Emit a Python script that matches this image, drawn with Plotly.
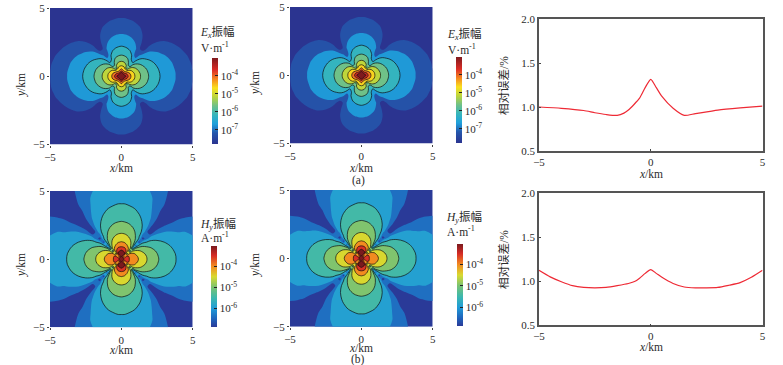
import numpy as np
import plotly.graph_objects as go

W, H = 783, 365
FONT = "Liberation Serif, Noto Sans CJK SC, serif"
TXT = "#2b2b2b"

# Quadrant node positions (km) for the amplitude maps
grid_km = [0, .2, .4, .6, .8, 1, 1.25, 1.5, 2, 2.5, 3, 3.5, 4, 4.5, 5]

# log10 |Ex| at the quadrant nodes: one row per y in grid_km, one column per x in grid_km
ex_log = [
 [-3.30,-3.00,-3.69,-4.27,-4.68,-5.00,-5.32,-5.58,-5.99,-6.31,-6.57,-6.80,-7.00,-7.23,-7.43],
 [-3.00,-3.79,-4.00,-4.41,-4.76,-5.05,-5.35,-5.61,-6.01,-6.32,-6.58,-6.80,-7.00,-7.23,-7.43],
 [-3.99,-4.55,-4.79,-4.80,-5.00,-5.21,-5.46,-5.68,-6.05,-6.35,-6.60,-6.81,-7.02,-7.24,-7.43],
 [-4.57,-4.80,-5.95,-5.37,-5.34,-5.44,-5.61,-5.79,-6.11,-6.39,-6.63,-6.84,-7.04,-7.25,-7.44],
 [-4.98,-5.11,-5.54,-6.40,-5.78,-5.74,-5.81,-5.94,-6.20,-6.45,-6.67,-6.87,-7.06,-7.26,-7.45],
 [-5.30,-5.38,-5.64,-6.21,-6.42,-6.10,-6.06,-6.11,-6.31,-6.52,-6.72,-6.90,-7.09,-7.29,-7.47],
 [-5.62,-5.67,-5.83,-6.13,-6.76,-6.74,-6.42,-6.37,-6.47,-6.63,-6.80,-6.96,-7.15,-7.33,-7.51],
 [-5.88,-5.92,-6.03,-6.22,-6.54,-7.26,-6.90,-6.68,-6.65,-6.75,-6.89,-7.03,-7.21,-7.37,-7.56],
 [-6.29,-6.32,-6.38,-6.48,-6.63,-6.85,-7.33,-7.71,-7.09,-7.05,-7.11,-7.22,-7.36,-7.52,-7.68],
 [-6.61,-6.63,-6.67,-6.73,-6.83,-6.95,-7.17,-7.52,-7.74,-7.41,-7.37,-7.44,-7.55,-7.66,-7.80],
 [-6.88,-6.89,-6.91,-6.96,-7.02,-7.11,-7.25,-7.43,-7.80,-7.80,-7.67,-7.70,-7.76,-7.80,-7.80],
 [-7.10,-7.10,-7.12,-7.16,-7.20,-7.26,-7.36,-7.49,-7.80,-7.80,-7.80,-7.80,-7.80,-7.80,-7.80],
 [-7.30,-7.30,-7.33,-7.35,-7.39,-7.45,-7.53,-7.60,-7.80,-7.80,-7.80,-7.80,-7.80,-7.80,-7.80],
 [-7.53,-7.53,-7.55,-7.60,-7.65,-7.70,-7.75,-7.80,-7.80,-7.80,-7.80,-7.80,-7.80,-7.80,-7.80],
 [-7.80,-7.80,-7.80,-7.80,-7.80,-7.80,-7.80,-7.80,-7.80,-7.80,-7.80,-7.80,-7.80,-7.80,-7.80],
]

# log10 |Hy| at the same nodes
hy_log = [
 [-3.00,-3.30,-3.55,-3.80,-3.95,-4.10,-4.29,-4.53,-4.90,-5.19,-5.43,-5.63,-5.81,-5.89,-6.03],
 [-3.00,-4.30,-3.60,-3.85,-4.00,-4.15,-4.34,-4.56,-4.92,-5.21,-5.44,-5.64,-5.81,-5.89,-6.03],
 [-3.00,-3.06,-4.90,-4.16,-4.17,-4.29,-4.48,-4.66,-4.98,-5.24,-5.47,-5.66,-5.82,-5.90,-6.04],
 [-3.13,-3.34,-3.96,-5.40,-4.77,-4.66,-4.71,-4.82,-5.07,-5.30,-5.50,-5.69,-5.85,-5.92,-6.05],
 [-3.51,-3.63,-3.97,-4.57,-6.00,-5.24,-5.04,-5.05,-5.20,-5.38,-5.56,-5.73,-5.88,-5.95,-6.07],
 [-3.93,-4.00,-4.22,-4.59,-5.17,-6.60,-5.54,-5.35,-5.36,-5.49,-5.64,-5.78,-5.92,-5.98,-6.10],
 [-4.22,-4.27,-4.41,-4.64,-4.97,-5.47,-7.00,-5.91,-5.62,-5.65,-5.75,-5.87,-5.99,-6.03,-6.14],
 [-4.46,-4.49,-4.59,-4.75,-4.98,-5.28,-5.84,-7.00,-5.97,-5.85,-5.89,-5.97,-6.06,-6.09,-6.19],
 [-4.83,-4.85,-4.91,-5.00,-5.13,-5.29,-5.55,-5.90,-7.20,-6.44,-6.25,-6.23,-6.26,-6.25,-6.32],
 [-5.12,-5.14,-5.17,-5.23,-5.31,-5.42,-5.58,-5.78,-6.37,-7.40,-6.82,-6.59,-6.52,-6.45,-6.48],
 [-5.36,-5.37,-5.40,-5.43,-5.49,-5.57,-5.68,-5.82,-6.18,-6.75,-7.60,-7.13,-6.80,-6.71,-6.69],
 [-5.56,-5.57,-5.59,-5.62,-5.66,-5.71,-5.80,-5.90,-6.16,-6.52,-7.06,-7.70,-7.33,-7.05,-6.93],
 [-5.74,-5.74,-5.75,-5.78,-5.81,-5.85,-5.92,-5.99,-6.19,-6.38,-6.73,-7.26,-7.80,-7.57,-7.27],
 [-5.82,-5.82,-5.83,-5.85,-5.88,-5.91,-5.96,-6.02,-6.18,-6.38,-6.64,-6.98,-7.50,-7.80,-7.70],
 [-5.96,-5.96,-5.97,-5.98,-6.00,-6.03,-6.07,-6.12,-6.25,-6.41,-6.62,-6.86,-7.20,-7.70,-7.80],
]

# Relative error profiles (%)
err_a_x = [-5,-4,-3,-2.5,-2,-1.5,-1.2,-1,-.5,-.25,0,.25,.5,1,1.5,2,3,4,5]
err_a_y = [1.0,.985,.96,.935,.915,.905,.93,.965,1.10,1.22,1.315,1.22,1.12,.985,.905,.925,.965,.99,1.01]
err_b_x = [-5,-4.5,-4,-3.5,-3,-2.5,-2,-1.5,-1,-.7,-.5,-.25,0,.25,.5,1,1.5,2,2.5,3,3.5,4,4.5,5]
err_b_y = [1.125,1.05,.995,.95,.93,.925,.93,.95,.975,1.0,1.035,1.09,1.133,1.09,1.045,.975,.935,.925,.925,.93,.955,.985,1.045,1.125]

# Colour bar stops (log10 amplitude, colour)
e_stops = [(-7.78,"#2b3490"),(-7.17,"#2456ac"),(-6.67,"#1fa0dc"),(-6.17,"#35b5bd"),(-5.67,"#6dc08a"),
           (-5.17,"#b9d43e"),(-4.67,"#fae11e"),(-4.17,"#f5861f"),(-3.67,"#dc2c26"),(-3.0,"#7e1a1e")]
h_stops = [(-6.87,"#2a3a98"),(-6.5,"#1f63bb"),(-6.0,"#1f9bd8"),(-5.5,"#3cb8ae"),(-5.0,"#78c273"),
           (-4.5,"#d8da30"),(-4.0,"#f28a20"),(-3.5,"#d52b25"),(-3.05,"#7a1a1e")]

e_ticks = [-7,-6,-5,-4]
e_labels = ["10<sup>-7</sup>","10<sup>-6</sup>","10<sup>-5</sup>","10<sup>-4</sup>"]
h_ticks = [-6,-5,-4]
h_labels = ["10<sup>-6</sup>","10<sup>-5</sup>","10<sup>-4</sup>"]

def px_x(p): return p / W
def px_y(p): return 1 - p / H

def full(q):
    q = np.array(q)
    top = np.hstack([q[:, :0:-1], q])
    return np.vstack([top[:0:-1], top])

ax_full = [-v for v in grid_km[:0:-1]] + grid_km

def scale(stops):
    a, b = stops[0][0], stops[-1][0]
    return [[(v - a) / (b - a), c] for v, c in stops]

fig = go.Figure()
layout = dict(width=W, height=H, margin=dict(l=0, r=0, t=0, b=0, autoexpand=False), paper_bgcolor="white",
              plot_bgcolor="white", showlegend=False, font=dict(family=FONT, size=11, color=TXT))
annots = []

def axis_common():
    return dict(tickfont=dict(family=FONT, size=11, color=TXT), showgrid=False, zeroline=False, automargin=False)

def add_map(n, box, q, stops, lo, lines_lo, hi, tv, tl, cb):
    xa, ya = f"x{n}", f"y{n}"
    l, r, t, b = box
    layout[f"xaxis{n}"] = dict(domain=[px_x(l), px_x(r)], range=[-5, 5], anchor=ya, tickvals=[-5, 0, 5],
                               ticktext=["−5", "0", "5"], ticks="outside", ticklen=2, tickcolor="#444", **axis_common())
    layout[f"yaxis{n}"] = dict(domain=[px_y(b), px_y(t)], range=[-5, 5], anchor=xa, tickvals=[-5, 0, 5],
                               ticktext=["−5", "0", "5"], ticks="outside", ticklen=2, tickcolor="#444", **axis_common())
    cs = scale(stops)
    z = full(q)
    fig.add_trace(go.Contour(x=ax_full, y=ax_full, z=z, xaxis=xa, yaxis=ya, colorscale=cs,
                             zmin=stops[0][0], zmax=stops[-1][0], showscale=False, hoverinfo="skip",
                             contours=dict(coloring="fill", start=lo, end=hi, size=.5),
                             line=dict(width=0)))
    fig.add_trace(go.Contour(x=ax_full, y=ax_full, z=z, xaxis=xa, yaxis=ya, showscale=False, hoverinfo="skip",
                             contours=dict(coloring="none", start=lines_lo, end=hi, size=.5),
                             line=dict(color="#101010", width=.7)))
    cl, ct, cbm = cb
    fig.add_trace(go.Scatter(x=[None, None], y=[None, None], xaxis=xa, yaxis=ya, mode="markers",
                             hoverinfo="skip",
                             marker=dict(color=[stops[0][0], stops[-1][0]], colorscale=cs,
                                         cmin=stops[0][0], cmax=stops[-1][0], showscale=True,
                                         colorbar=dict(x=px_x(cl), xanchor="left", y=px_y(cbm), yanchor="bottom",
                                                       len=(cbm - ct) / H, lenmode="fraction", thickness=6,
                                                       thicknessmode="pixels", xpad=0, ypad=0, outlinewidth=0,
                                                       tickmode="array", tickvals=tv, ticktext=tl, ticks="inside",
                                                       ticklen=3, tickcolor="#222",
                                                       tickfont=dict(family=FONT, size=11, color=TXT)))))

def add_err(n, box, xs, ys):
    xa, ya = f"x{n}", f"y{n}"
    l, r, t, b = box
    frame = dict(showline=True, mirror=True, linecolor="#555", linewidth=1.5, ticks="inside", ticklen=2, tickcolor="#444")
    layout[f"xaxis{n}"] = dict(domain=[px_x(l), px_x(r)], range=[-5, 5], anchor=ya, tickvals=[-5, 0, 5],
                               ticktext=["−5", "0", "5"], **frame, **axis_common())
    layout[f"yaxis{n}"] = dict(domain=[px_y(b), px_y(t)], range=[.5, 2], anchor=xa, tickvals=[.5, 1, 1.5, 2],
                               ticktext=["0.5", "1.0", "1.5", "2.0"], **frame, **axis_common())
    fig.add_trace(go.Scatter(x=xs, y=ys, xaxis=xa, yaxis=ya, mode="lines",
                             line=dict(color="#ee2a35", width=1.2, shape="spline", smoothing=.6), hoverinfo="skip"))

add_map(1, (50, 192.7, 8, 144.5), ex_log, e_stops, -7.42, -6.42, -3.42, e_ticks, e_labels, (212, 58, 144))
add_map(2, (290, 432.7, 7, 143.5), ex_log, e_stops, -7.42, -6.42, -3.42, e_ticks, e_labels, (456, 57, 143))
add_err(3, (539, 762.5, 19, 151), err_a_x, err_a_y)
add_map(4, (50, 192.7, 191, 327.3), hy_log, h_stops, -6.75, -5.75, -3.25, h_ticks, h_labels, (211, 246, 327))
add_map(5, (290, 432.7, 190, 326.7), hy_log, h_stops, -6.75, -5.75, -3.25, h_ticks, h_labels, (457, 244, 326))
add_err(6, (539, 762.5, 193.3, 325.3), err_b_x, err_b_y)

def note(text, x, y, size=11.5, anchor="left", angle=0):
    annots.append(dict(text=text, x=px_x(x), y=px_y(y), xref="paper", yref="paper", showarrow=False,
                       xanchor=anchor, yanchor="middle", textangle=angle,
                       font=dict(family=FONT, size=size, color=TXT)))

note("<i>E<sub>x</sub></i>振幅", 198, 33)
note("V·m<sup>-1</sup>", 199, 47)
note("<i>E<sub>x</sub></i>振幅", 445, 35)
note("V·m<sup>-1</sup>", 446, 49)
note("<i>H<sub>y</sub></i>振幅", 198, 224)
note("A·m<sup>-1</sup>", 199, 237)
note("<i>H<sub>y</sub></i>振幅", 444, 217)
note("A·m<sup>-1</sup>", 445, 231)
note("(a)", 358, 180, anchor="center")
note("(b)", 358, 359, anchor="center")
for cx, cy in [(121, 168), (361, 167.5), (651, 174), (121, 350), (361, 348), (651, 347)]:
    note("<i>x</i>/km", cx, cy, anchor="center")
for cx, cy in [(21, 85), (255, 83), (21, 265), (255, 265)]:
    note("<i>y</i>/km", cx, cy, anchor="center", angle=-90)
note("相对误差/%", 503, 86, anchor="center", angle=-90)
note("相对误差/%", 503, 260, anchor="center", angle=-90)
layout["annotations"] = annots

fig.update_layout(**layout)
fig.write_html("out.html", config={"displayModeBar": False}, post_script="document.body.style.margin='0';")
